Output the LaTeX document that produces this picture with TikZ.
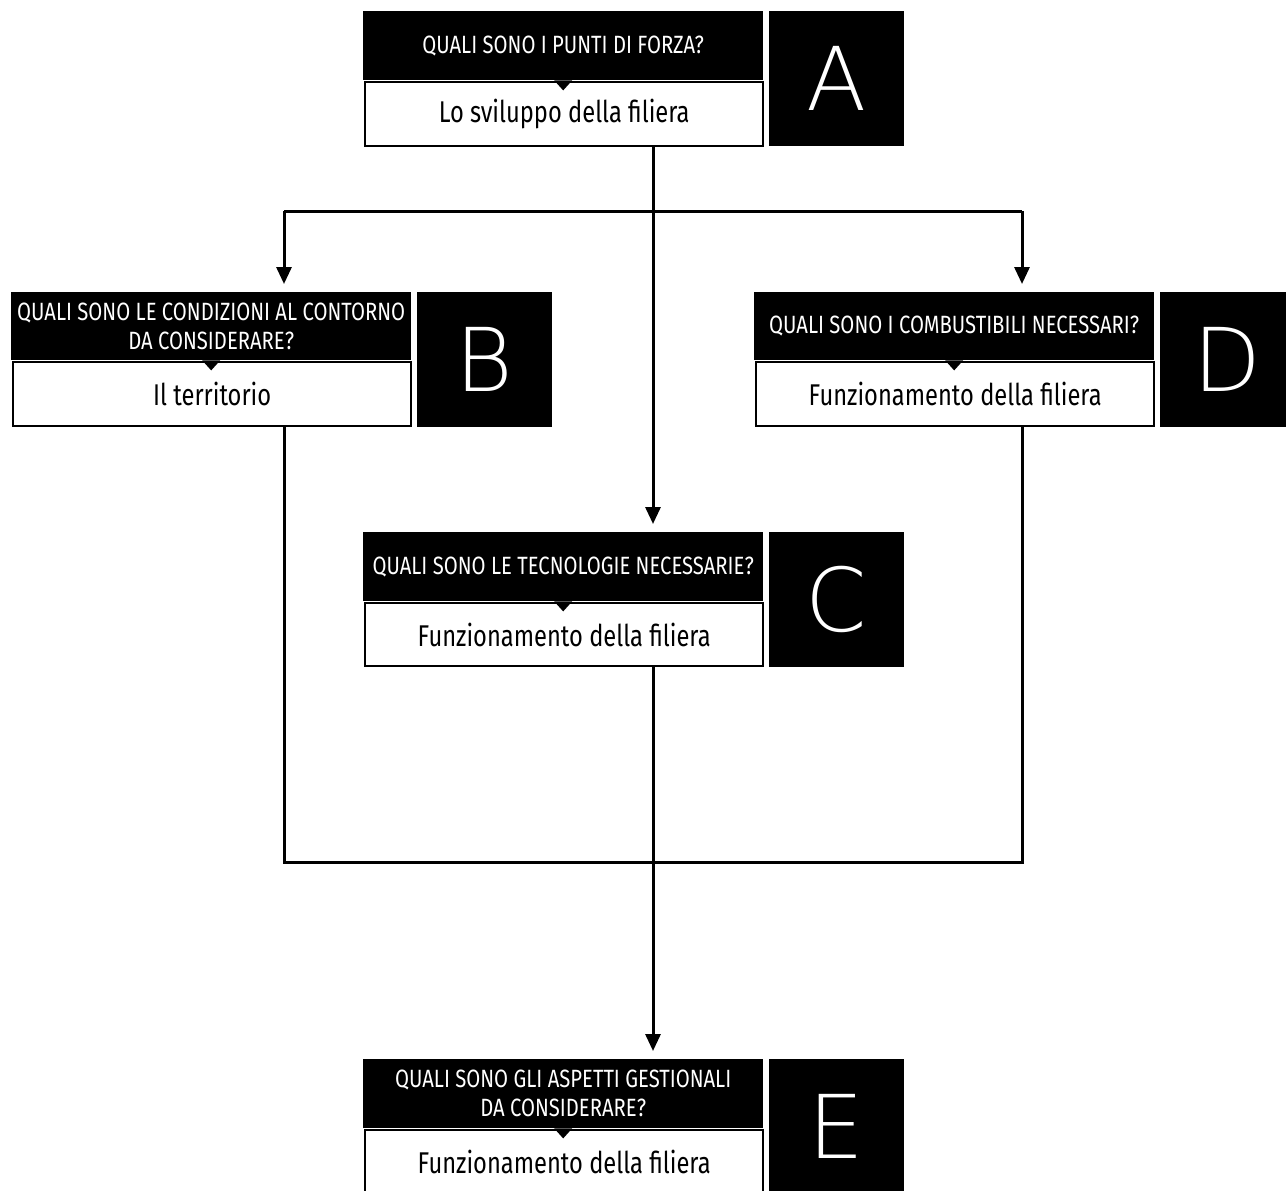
\documentclass[tikz,border=0pt]{standalone}
\usepackage{fontspec}
\setmainfont{Fira Sans}
\newfontfamily\hdfont{Fira Sans}[FakeStretch=0.81]
\newfontfamily\bdfont{Fira Sans}[FakeStretch=0.79]
\newfontfamily\letfont{DejaVu Sans ExtraLight}
\usetikzlibrary{arrows.meta,calc}
\tikzset{
  hdr/.style={anchor=north west,fill=black,text=white,minimum width=400pt,inner sep=0pt,align=center,
    font=\hdfont\fontsize{25}{29}\selectfont},
  bodybox/.style={anchor=north west,draw=black,line width=2.2pt,fill=white,minimum width=398pt,inner sep=0pt,
    font=\bdfont\fontsize{30}{34}\selectfont},
  letbox/.style={anchor=north west,fill=black,text=white,minimum width=135pt,minimum height=135pt,inner sep=0pt,
    font=\letfont\fontsize{88}{88}\selectfont},
  conn/.style={line width=3pt,line join=miter},
  arr/.style={conn,-{Triangle[width=15pt,length=17pt]},shorten >=8pt},
}
\newcommand\qblock[8]{% name, x, ytop, hdr height, body height, header text, body text, letter
  \node[hdr,minimum height=#4pt] (#1h) at (#2,#3) {#6};
  \node[bodybox,minimum height=#5pt] (#1b) at ($(#2,#3)+(1.1,#4+1.1)$) {#7};
  \fill[black] ($(#1h.south)+(-9,0)$) -- ($(#1h.south)+(9,0)$) -- ($(#1h.south)+(0,10)$) -- cycle;
  \node[letbox] (#1l) at ($(#2,#3)+(406,0)$) {#8};
}
\begin{document}
\begin{tikzpicture}[x=1pt,y=-1pt]
\clip (0,0) rectangle (1286,1191);
\fill[white] (0,0) rectangle (1286,1191);
\qblock{A}{363}{11}{69}{64}{QUALI SONO I PUNTI DI FORZA?}{Lo sviluppo della filiera}{A}
\qblock{B}{11}{292}{68}{64}{QUALI SONO LE CONDIZIONI AL CONTORNO\\DA CONSIDERARE?}{Il territorio}{B}
\qblock{D}{754}{292}{68}{64}{QUALI SONO I COMBUSTIBILI NECESSARI?}{Funzionamento della filiera}{D}
\qblock{C}{363}{532}{69}{63}{QUALI SONO LE TECNOLOGIE NECESSARIE?}{Funzionamento della filiera}{C}
\qblock{E}{363}{1059}{69}{64}{QUALI SONO GLI ASPETTI GESTIONALI\\DA CONSIDERARE?}{Funzionamento della filiera}{E}
\coordinate (spine) at (653,0);
\coordinate (sL) at (284,211);
\coordinate (sR) at (1022,211);
\coordinate (jL) at (284,862);
\coordinate (jR) at (1022,862);
\draw[conn] (sL) -- (sR);
\draw[arr] (sL) -- (Bh.north -| sL);
\draw[arr] (sR) -- (Dh.north -| sR);
\draw[arr] (Ab.south -| spine) -- (Ch.north -| spine);
\draw[conn] (Bb.south -| sL) -- (jL) -- (jR) -- (Db.south -| sR);
\draw[arr] (Cb.south -| spine) -- (Eh.north -| spine);
\end{tikzpicture}
\end{document}
